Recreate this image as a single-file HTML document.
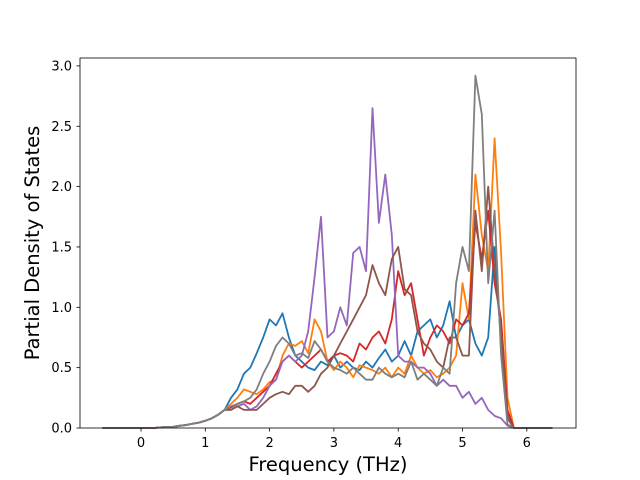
<!DOCTYPE html>
<html><head><meta charset="utf-8"><style>
body{margin:0;background:#fff}
svg{display:block;font-family:"DejaVu Sans","Liberation Sans",sans-serif}
</style></head><body>
<svg id="chart" width="640" height="480" viewBox="0 0 640 480">
<rect width="640" height="480" fill="#fff"/>
<g id="plot"></g>
<rect x="80" y="58" width="496" height="370" fill="none" stroke="#000" stroke-width="0.8"/>
<g id="ticks"></g>
<text x="328" y="471" text-anchor="middle" font-size="19.5">Frequency (THz)</text>
<text transform="translate(39,243) rotate(-90)" text-anchor="middle" font-size="19.5">Partial Density of States</text>
</svg>
<script>
const zerosLow=[0,0,0,0,0,0,0,0,0];
const baseRise=[0.005,0.008,0.01,0.018,0.025,0.035,0.045,0.06,0.08,0.11,0.15];
const zerosHigh=[0,0,0,0,0];
const blueMid=[0.25,0.32,0.45,0.5,0.62,0.75,0.9,0.85,0.95,0.75,0.6,0.55,0.5,0.48,0.55,0.52,0.6,0.5,0.55,0.5,0.48,0.55,0.5,0.58,0.65,0.55,0.6,0.72,0.6,0.8,0.85,0.9,0.75,0.85,1.05,0.75,0.85,0.9,0.7,0.6,0.75,1.5,0.7,0.12,0,0];
const orangeMid=[0.2,0.25,0.32,0.3,0.28,0.32,0.38,0.4,0.6,0.7,0.68,0.72,0.62,0.9,0.8,0.55,0.48,0.55,0.5,0.42,0.52,0.5,0.48,0.45,0.5,0.42,0.5,0.45,0.6,0.5,0.45,0.48,0.42,0.45,0.5,0.6,1.2,0.9,2.1,1.6,1.3,2.4,1.45,0.25,0,0];
const redMid=[0.17,0.2,0.22,0.2,0.25,0.3,0.35,0.45,0.55,0.6,0.55,0.5,0.55,0.6,0.65,0.55,0.6,0.62,0.6,0.55,0.7,0.65,0.75,0.8,0.7,0.9,1.3,1.1,1.2,0.9,0.6,0.75,0.85,0.8,0.7,0.9,0.85,0.95,1.7,1.4,1.8,1.2,0.9,0.15,0,0];
const purpleMid=[0.15,0.18,0.2,0.15,0.18,0.25,0.35,0.4,0.55,0.6,0.55,0.6,0.8,1.25,1.75,0.75,0.8,1.0,0.85,1.45,1.5,1.3,2.65,1.7,2.1,1.6,0.6,0.55,0.55,0.5,0.5,0.45,0.35,0.4,0.35,0.35,0.25,0.3,0.2,0.25,0.15,0.1,0.08,0.02,0,0];
const brownMid=[0.15,0.18,0.15,0.15,0.15,0.2,0.25,0.28,0.3,0.28,0.35,0.35,0.3,0.35,0.45,0.5,0.6,0.7,0.8,0.9,1.0,1.1,1.35,1.2,1.1,1.4,1.5,1.15,1.1,0.8,0.7,0.65,0.55,0.5,0.75,0.75,0.6,0.6,1.8,1.3,2.0,1.3,0.8,0.08,0,0];
const grayMid=[0.18,0.2,0.22,0.25,0.32,0.45,0.55,0.68,0.75,0.7,0.6,0.62,0.58,0.72,0.65,0.55,0.5,0.48,0.45,0.5,0.45,0.4,0.4,0.5,0.45,0.42,0.45,0.42,0.55,0.4,0.45,0.4,0.35,0.5,0.45,1.2,1.5,1.3,2.92,2.6,1.2,1.8,0.6,0.03,0,0];
const xTicks=[0,1,2,3,4,5,6];
const yTicks=[0.0,0.5,1.0,1.5,2.0,2.5,3.0];
const freqs=[];for(let i=0;i<71;i++)freqs.push(Math.round((-0.6+i*0.1)*10)/10);
const seriesList=[
 {name:'blue',color:'#1f77b4',v:zerosLow.concat(baseRise,blueMid,zerosHigh)},
 {name:'orange',color:'#ff7f0e',v:zerosLow.concat(baseRise,orangeMid,zerosHigh)},
 {name:'red',color:'#d62728',v:zerosLow.concat(baseRise,redMid,zerosHigh)},
 {name:'purple',color:'#9467bd',v:zerosLow.concat(baseRise,purpleMid,zerosHigh)},
 {name:'brown',color:'#8c564b',v:zerosLow.concat(baseRise,brownMid,zerosHigh)},
 {name:'gray',color:'#7f7f7f',v:zerosLow.concat(baseRise,grayMid,zerosHigh)}
];
const X=f=>141+f*64.3;
const Y=v=>428-v*120.7;
const NS='http://www.w3.org/2000/svg';
const plot=document.getElementById('plot');
seriesList.forEach(s=>{
 const p=document.createElementNS(NS,'polyline');
 p.setAttribute('points',s.v.map((v,i)=>X(freqs[i]).toFixed(1)+','+Y(v).toFixed(1)).join(' '));
 p.setAttribute('fill','none');p.setAttribute('stroke',s.color);p.setAttribute('stroke-width','1.8');
 p.setAttribute('stroke-linejoin','round');
 
 
 plot.appendChild(p);
});
const tg=document.getElementById('ticks');
xTicks.forEach(t=>{
 const l=document.createElementNS(NS,'line');
 l.setAttribute('x1',X(t));l.setAttribute('x2',X(t));l.setAttribute('y1',428);l.setAttribute('y2',431.5);l.setAttribute('stroke','#000');l.setAttribute('stroke-width','0.8');
 
 
 tg.appendChild(l);
 const tx=document.createElementNS(NS,'text');
 tx.setAttribute('x',X(t));tx.setAttribute('y',447);tx.setAttribute('text-anchor','middle');tx.setAttribute('font-size','13');
 tx.textContent=String(t);
 
 
 tg.appendChild(tx);
});
yTicks.forEach(t=>{
 const l=document.createElementNS(NS,'line');
 l.setAttribute('x1',76.5);l.setAttribute('x2',80);l.setAttribute('y1',Y(t));l.setAttribute('y2',Y(t));l.setAttribute('stroke','#000');l.setAttribute('stroke-width','0.8');
 
 
 tg.appendChild(l);
 const tx=document.createElementNS(NS,'text');
 tx.setAttribute('x',72);tx.setAttribute('y',Y(t)+4.5);tx.setAttribute('text-anchor','end');tx.setAttribute('font-size','13');
 tx.textContent=t.toFixed(1);
 
 
 tg.appendChild(tx);
});
</script>
</body></html>
